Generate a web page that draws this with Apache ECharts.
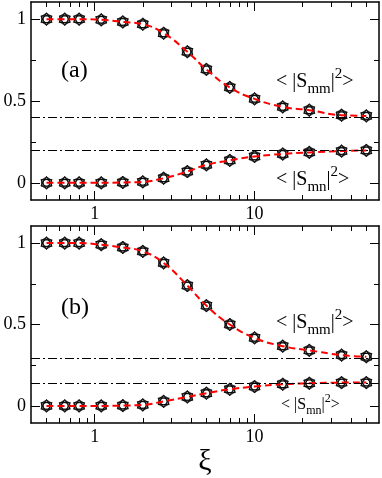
<!DOCTYPE html>
<html>
<head>
<meta charset="utf-8">
<script src="https://cdn.jsdelivr.net/npm/echarts@6/dist/echarts.min.js"></script>
<style>
  html, body { margin: 0; padding: 0; background: #fff; }
  #chart { width: 382px; height: 478px; }
</style>
</head>
<body>
<div id="chart"></div>
<script>
  // xi values of the data points
  const xi = [0.5, 0.65, 0.8, 1.1, 1.5, 2, 2.7, 3.8, 5, 7, 10, 15, 22, 35, 50];
  // panel (a)
  const smmA = [1.0, 1.0, 1.0, 0.996, 0.983, 0.969, 0.914, 0.801, 0.693, 0.583, 0.513, 0.464, 0.444, 0.413, 0.409];
  const smnA = [0, 0, 0, 0, 0.002, 0.006, 0.028, 0.069, 0.110, 0.137, 0.161, 0.176, 0.186, 0.194, 0.198];
  const limitsA = [0.4, 0.2];
  // panel (b)
  const smmB = [1.0, 1.0, 1.0, 0.990, 0.973, 0.949, 0.878, 0.739, 0.616, 0.500, 0.418, 0.367, 0.341, 0.312, 0.302];
  const smnB = [0, 0, 0, 0, 0.002, 0.006, 0.028, 0.055, 0.078, 0.102, 0.119, 0.133, 0.139, 0.143, 0.143];
  const limitsB = [0.286, 0.143];

  // ticks
  const xMajor = [1, 10];
  const xMinor = [0.5, 0.6, 0.7, 0.8, 0.9, 2, 3, 4, 5, 6, 7, 8, 9, 20, 30, 40, 50];
  const yMajor = [0, 0.5, 1];
  const yMinor = [0.25, 0.75];
  const xMin = 0.4, xMax = 60;
  const yMin = -0.105, yMax = 1.105;

  const serif = 'Liberation Serif';
  const lg = (v) => Math.log10(v);
  const hexagram = 'path://M50,0L93.3,75L6.7,75Z M50,100L93.3,25L6.7,25Z';
  const hexagon = 'path://M50,0L93.3,25L93.3,75L50,100L6.7,75L6.7,25Z';

  function xAxes(gridIndex, withName) {
    const base = {
      type: 'value', gridIndex: gridIndex, min: lg(xMin), max: lg(xMax),
      splitLine: { show: false },
      axisLine: { show: false, onZero: false },
      axisLabel: { show: false }
    };
    const axes = [];
    ['bottom', 'top'].forEach((pos) => {
      axes.push(Object.assign({}, base, {
        position: pos,
        axisLine: { show: true, onZero: false, lineStyle: { color: '#000', width: 1.5 } },
        axisTick: { inside: true, length: 9, customValues: xMajor.map(lg), lineStyle: { color: '#000', width: 1 } },
        axisLabel: pos === 'bottom' ? {
          show: true, customValues: xMajor.map(lg), margin: 5,
          fontFamily: serif, fontSize: 18, color: '#000',
          formatter: (v) => String(Math.round(Math.pow(10, v)))
        } : { show: false },
        name: (withName && pos === 'bottom') ? 'ξ' : '',
        nameLocation: 'middle', nameGap: 24,
        nameTextStyle: { fontFamily: serif, fontSize: 30, color: '#000' }
      }));
      axes.push(Object.assign({}, base, {
        position: pos,
        axisTick: { inside: true, length: 5, customValues: xMinor.map(lg), lineStyle: { color: '#000', width: 1 } }
      }));
    });
    return axes;
  }

  function yAxes(gridIndex) {
    const base = {
      type: 'value', gridIndex: gridIndex, min: yMin, max: yMax,
      splitLine: { show: false },
      axisLine: { show: false, onZero: false },
      axisLabel: { show: false }
    };
    const axes = [];
    ['left', 'right'].forEach((pos) => {
      axes.push(Object.assign({}, base, {
        position: pos,
        axisLine: { show: true, onZero: false, lineStyle: { color: '#000', width: 1.5 } },
        axisTick: { inside: true, length: 9, customValues: yMajor, lineStyle: { color: '#000', width: 1 } },
        axisLabel: pos === 'left' ? {
          show: true, customValues: yMajor, margin: 5,
          fontFamily: serif, fontSize: 18, color: '#000'
        } : { show: false }
      }));
      axes.push(Object.assign({}, base, {
        position: pos,
        axisTick: { inside: true, length: 5, customValues: yMinor, lineStyle: { color: '#000', width: 1 } }
      }));
    });
    return axes;
  }

  // one data set = open markers (circle + hexagon + hexagram) and the red dashed curve
  function curve(values, axisIdx, limits) {
    const pts = xi.map((x, i) => [lg(x), values[i]]);
    const marker = (symbol, size, width) => ({
      type: 'scatter', xAxisIndex: axisIdx, yAxisIndex: axisIdx, data: pts,
      symbol: symbol, symbolSize: size, symbolKeepAspect: true, z: 3,
      itemStyle: { color: 'rgba(255,255,255,0)', borderColor: '#000', borderWidth: width }
    });
    const first = marker('circle', 7, 1.2);
    if (limits) {
      first.markLine = {
        silent: true, symbol: 'none', label: { show: false },
        lineStyle: { color: '#000', width: 1.1, type: [9, 3, 2, 3] },
        data: limits.map((v) => ({ yAxis: v }))
      };
    }
    return [
      first,
      marker(hexagon, 11, 1.5),
      marker(hexagram, 13, 1),
      {
        type: 'line', xAxisIndex: axisIdx, yAxisIndex: axisIdx, data: pts,
        smooth: true, showSymbol: false, z: 4,
        lineStyle: { color: '#f00', width: 2, type: [7, 4] }
      }
    ];
  }

  function label(x, y, sub, size) {
    const s = size || 20;
    const k = s / 20;
    return {
      type: 'text', x: x, y: y, z: 10,
      style: {
        text: '{n|< |S}{sub|' + sub + '}{n||}{sup|2}{n|>}',
        verticalAlign: 'middle', align: 'left',
        rich: {
          n: { fontFamily: serif, fontSize: s, lineHeight: 30 * k, fill: '#000' },
          sub: { fontFamily: serif, fontSize: 15 * k, lineHeight: 8 * k, verticalAlign: 'bottom', fill: '#000' },
          sup: { fontFamily: serif, fontSize: 15 * k, lineHeight: 22 * k, verticalAlign: 'top', fill: '#000' }
        }
      }
    };
  }

  const option = {
    animation: false,
    backgroundColor: '#fff',
    grid: [
      { left: 31, top: 2, width: 348, height: 198 },
      { left: 31, top: 226, width: 348, height: 198 }
    ],
    xAxis: xAxes(0, false).concat(xAxes(1, true)),
    yAxis: yAxes(0).concat(yAxes(1)),
    series: [].concat(
      curve(smmA, 0, limitsA),
      curve(smnA, 0),
      curve(smmB, 4, limitsB),
      curve(smnB, 4)
    ),
    graphic: [
      { type: 'text', x: 61, y: 71, style: { text: '(a)', fontFamily: serif, fontSize: 24, fill: '#000', verticalAlign: 'middle' } },
      { type: 'text', x: 61, y: 308, style: { text: '(b)', fontFamily: serif, fontSize: 24, fill: '#000', verticalAlign: 'middle' } },
      label(276, 81.5, 'mm'),
      label(276, 179.5, 'mn'),
      label(276, 322.5, 'mm'),
      label(281, 405, 'mn', 16)
    ]
  };

  const myChart = echarts.init(document.getElementById('chart'));
  myChart.setOption(option);
</script>
</body>
</html>
